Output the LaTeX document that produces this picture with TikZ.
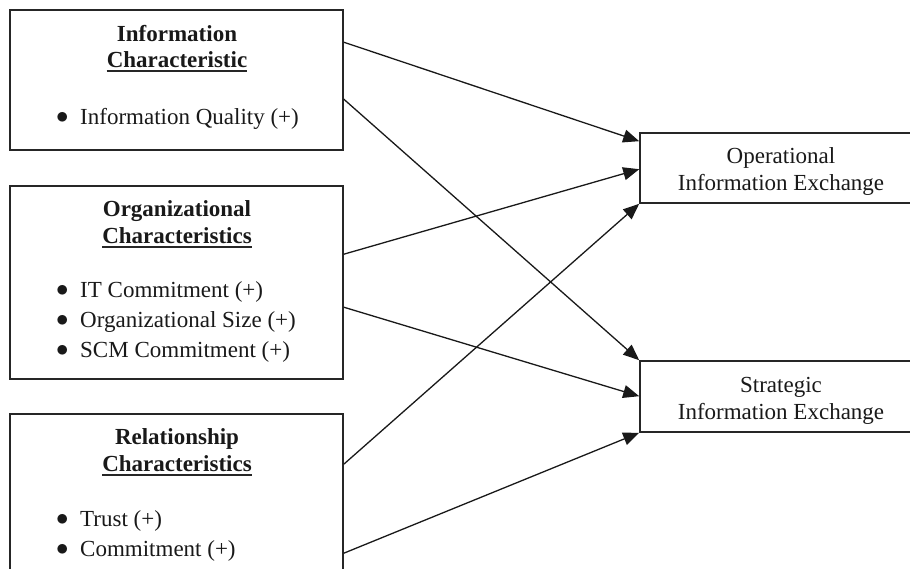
\documentclass[tikz,border=0pt]{standalone}
\usepackage{fontspec}
\setmainfont{Liberation Serif}
\usetikzlibrary{arrows.meta,calc}
\newcommand{\itemdot}{\makebox[24pt][l]{\raisebox{0.5pt}{$\bullet$}}}
\begin{document}
\begin{tikzpicture}[x=1pt,y=-1pt,
  box/.style={draw=black!85, line width=1.6pt, inner sep=0pt, fill=white},
  txt/.style={inner sep=0pt, font=\fontsize{23}{27}\selectfont, text=black!90},
  head/.style={txt, font=\fontsize{23}{27}\selectfont\bfseries, anchor=base},
  item/.style={txt, anchor=base west},
  uline/.style={line width=1.4pt, draw=black!85},
  link/.style={draw=black!90, line width=1.3pt, -{Triangle[length=16pt,width=13pt]}}]
\useasboundingbox (0,0) rectangle (910,568);

% determinant boxes (left column)
\node[box, minimum width=333pt, minimum height=140pt] (b1) at (176.5,80) {};
\node[box, minimum width=333pt, minimum height=193pt] (b2) at (176.5,282.5) {};
\node[box, minimum width=333pt, minimum height=190pt] (b3) at (176.5,509) {};

% outcome boxes (right column)
\node[box, minimum width=290pt, minimum height=70pt] (op) at (785,168) {};
\node[box, minimum width=290pt, minimum height=71pt] (st) at (785,396.5) {};

% information characteristic
\node[head] (b1h1) at (177,41) {Information};
\node[head] (b1h2) at (177,67) {Characteristic};
\draw[uline] ([yshift=-4pt]b1h2.base west) -- ([yshift=-4pt]b1h2.base east);
\node[item] (b1i1) at (56,124) {\itemdot Information Quality (+)};

% organizational characteristics
\node[head] (b2h1) at (177,216) {Organizational};
\node[head] (b2h2) at (177,243) {Characteristics};
\draw[uline] ([yshift=-4pt]b2h2.base west) -- ([yshift=-4pt]b2h2.base east);
\node[item] (b2i1) at (56,297) {\itemdot IT Commitment (+)};
\node[item] (b2i2) at (56,327) {\itemdot Organizational Size (+)};
\node[item] (b2i3) at (56,357) {\itemdot SCM Commitment (+)};

% relationship characteristics
\node[head] (b3h1) at (177,444) {Relationship};
\node[head] (b3h2) at (177,471) {Characteristics};
\draw[uline] ([yshift=-4pt]b3h2.base west) -- ([yshift=-4pt]b3h2.base east);
\node[item] (b3i1) at (56,526) {\itemdot Trust (+)};
\node[item] (b3i2) at (56,556) {\itemdot Commitment (+)};

% outcome labels
\node[txt, anchor=base] (op1) at (781,163) {Operational};
\node[txt, anchor=base] (op2) at (781,190) {Information Exchange};
\node[txt, anchor=base] (st1) at (781,392) {Strategic};
\node[txt, anchor=base] (st2) at (781,419) {Information Exchange};

% connector end points on the box borders
\coordinate (b1a) at ($(b1.north east)+(0,33)$);
\coordinate (b1b) at ($(b1.north east)+(0,90)$);
\coordinate (b2a) at ($(b2.north east)+(0,69)$);
\coordinate (b2b) at ($(b2.north east)+(0,122)$);
\coordinate (b3a) at ($(b3.north east)+(0,51)$);
\coordinate (b3b) at ($(b3.north east)+(0,140)$);
\coordinate (opa) at ($(op.north west)+(0,9)$);
\coordinate (opb) at ($(op.north west)+(0,37)$);
\coordinate (opc) at (op.south west);
\coordinate (sta) at (st.north west);
\coordinate (stb) at ($(st.north west)+(0,36)$);
\coordinate (stc) at (st.south west);

% hypothesised effects
\draw[link] (b1a) -- (opa);
\draw[link] (b1b) -- (sta);
\draw[link] (b2a) -- (opb);
\draw[link] (b2b) -- (stb);
\draw[link] (b3a) -- (opc);
\draw[link] (b3b) -- (stc);
\end{tikzpicture}
\end{document}
